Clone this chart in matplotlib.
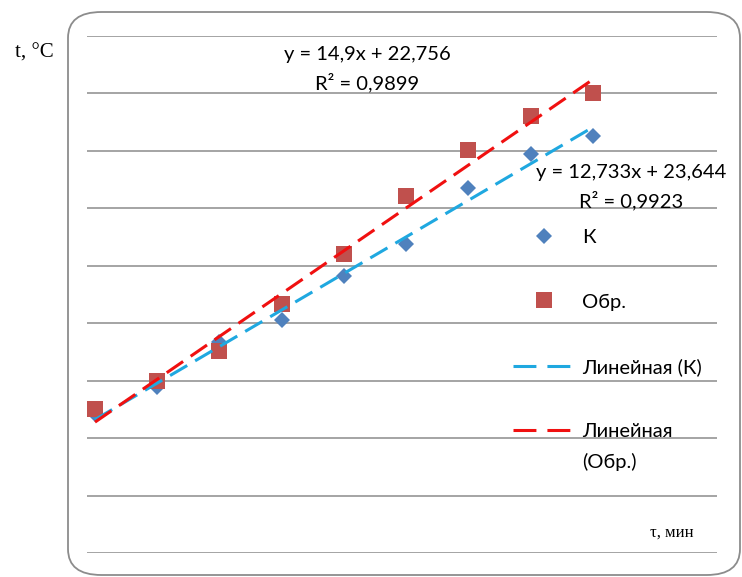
import numpy as np
import matplotlib.pyplot as plt
from matplotlib.patches import FancyBboxPatch
from matplotlib.lines import Line2D

# time, min
tau = np.arange(0, 9)
# temperature, C
t_k = [25.5, 34.8, 50.4, 58.1, 73.5, 84.5, 104.0, 116.0, 122.0]
t_obr = [27.0, 36.8, 47.3, 63.5, 80.9, 101.1, 117.1, 128.9, 137.2]

label_k = 'К'
label_obr = 'Обр.'
lin_k = 'Линейная (К)'
lin_obr = ['Линейная', '(Обр.)']
eq_k = 'y = 12,733x + 23,644\nR² = 0,9923'
eq_obr = 'y = 14,9x + 22,756\nR² = 0,9899'

c_k = '#4F81BD'
c_obr = '#C0504D'
c_lin_k = '#1FA8E0'
c_lin_obr = '#F01010'
grid_c = '#8c8c8c'
sans = ['Lato', 'DejaVu Sans']
serif = ['Liberation Serif', 'DejaVu Serif']
fs = 14.5
dash = (6.5, 3.0)
dash_leg = (7.5, 3.6)

fig = plt.figure(figsize=(7.42, 5.77), dpi=100)

# rounded frame round the chart
frame = FancyBboxPatch((68/742, 2/577), 672/742, 563/577,
                       boxstyle='round,pad=0,rounding_size=0.045',
                       transform=fig.transFigure, fill=False,
                       edgecolor=grid_c, linewidth=1.3)
fig.patches.append(frame)

ax = fig.add_axes([87/742, 1 - 553/577, 630/742, 517/577])
ax.set_xlim(-0.1285, 9.992)
ylo, yhi = -22.96, 156.9
ax.set_ylim(ylo, yhi)
ax.set_yticks(np.linspace(ylo, yhi, 10))
ax.yaxis.grid(True, color=grid_c, linewidth=1.1)
ax.tick_params(left=False, bottom=False, labelleft=False, labelbottom=False)
for s in ax.spines.values():
    s.set_visible(False)
ax.patch.set_alpha(0)

ax.plot(tau, t_k, linestyle='', marker='D', markersize=8.5, color=c_k,
        markeredgewidth=0, zorder=3)
ax.plot(tau, t_obr, linestyle='', marker='s', markersize=12, color=c_obr,
        markeredgewidth=0, zorder=3)

# linear trends
pk = np.polyfit(tau, t_k, 1)
po = np.polyfit(tau, t_obr, 1)
xx = np.array([tau[0], tau[-1]])
ax.plot(xx, np.polyval(pk, xx), color=c_lin_k, linewidth=2.2,
        dashes=dash, zorder=4)
ax.plot(xx, np.polyval(po, xx), color=c_lin_obr, linewidth=2.2,
        dashes=dash, zorder=4)

# equations
fig.text(367/742, 1 - 69/577, eq_obr, ha='center', va='center',
         family=sans, fontsize=fs, linespacing=1.6)
fig.text(631/742, 1 - 187/577, eq_k, ha='center', va='center',
         family=sans, fontsize=fs, linespacing=1.6)

# axis captions
fig.text(34/742, 1 - 53/577, 't, °C', ha='center', va='center',
         family=serif, fontsize=15)
fig.text(672/742, 1 - 533/577, 'τ, мин', ha='center', va='center',
         family=serif, fontsize=12)

handles = [
    Line2D([], [], linestyle='', marker='D', markersize=8.5, color=c_k, markeredgewidth=0),
    Line2D([], [], linestyle='', marker='s', markersize=12, color=c_obr, markeredgewidth=0),
    Line2D([], [], color=c_lin_k, linewidth=2.2, dashes=dash_leg),
    Line2D([], [], color=c_lin_obr, linewidth=2.2, dashes=dash_leg),
]
labels = [label_k, label_obr, lin_k, lin_obr[0]]
leg = fig.legend(handles, labels, loc='upper left',
                 bbox_to_anchor=(513/742, 1 - 229/577),
                 frameon=False, borderpad=0, borderaxespad=0,
                 handlelength=3.1, handletextpad=0.35, labelspacing=2.35,
                 prop={'family': sans, 'size': fs})

# second line of the last legend label, as in the original (handle on the first line)
fig.canvas.draw()
bb = leg.get_texts()[3].get_window_extent()
fig.text(bb.x0 / 742, (bb.y0 - 31) / 577, lin_obr[1], ha='left', va='bottom',
         family=sans, fontsize=fs)

fig.savefig('out.png', dpi=100)
